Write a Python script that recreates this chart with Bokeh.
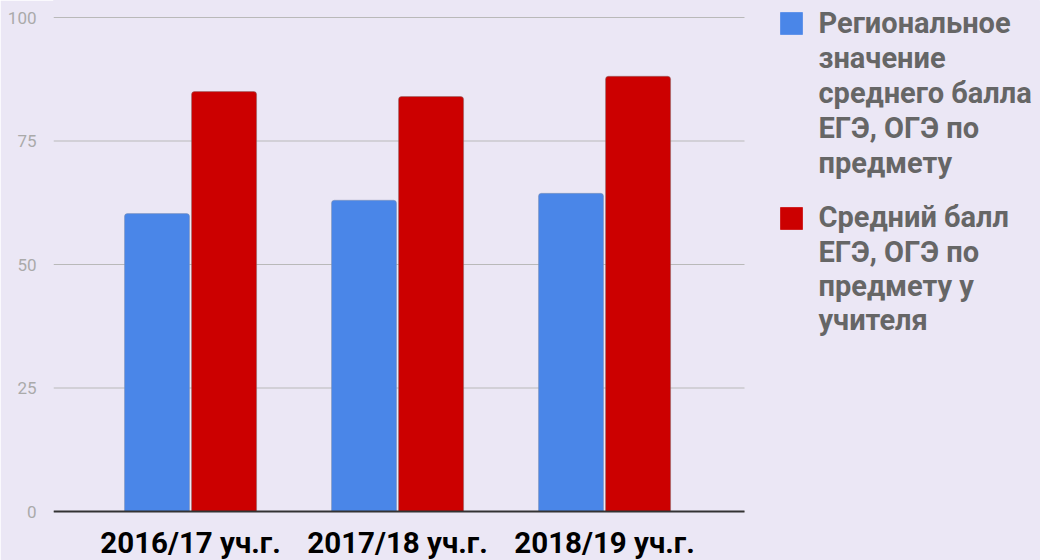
from bokeh.plotting import figure
from bokeh.models import Range1d, FixedTicker
from bokeh.core.properties import value
from bokeh.embed import file_html
from bokeh.resources import INLINE

categories = ["2016/17 уч.г.", "2017/18 уч.г.", "2018/19 уч.г."]
regional = [60.3, 63.0, 64.4]
teacher = [85.0, 84.0, 88.1]
series_names = [
    ["Региональное", "значение", "среднего балла", "ЕГЭ, ОГЭ по", "предмету"],
    ["Средний балл", "ЕГЭ, ОГЭ по", "предмету у", "учителя"],
]
colors = ["#4a86e8", "#cc0000"]
y_ticks = [0, 25, 50, 75, 100]

BG = "#ebe7f5"
FONT = "Roboto"

idx = list(range(len(categories)))
bw = 0.314
off = 0.162

# layout in page pixels
PL, PR, PT, PB = 53, 744, 17, 511   # plotting area (value 100 at PT, 0 at PB)
W, H = 1040, 560
X0 = -0.662
PX_PER_X = 207.0
PX_PER_Y = (PB - PT) / 100.0
X1 = X0 + (W - PL) / PX_PER_X
Y0 = -(H - PB) / PX_PER_Y
Y1 = PB / PX_PER_Y


def dx(px):
    return X0 + (px - PL) / PX_PER_X


def dy(py):
    return (PB - py) / PX_PER_Y


p = figure(width=W, height=H, output_backend="svg", toolbar_location=None,
           x_range=Range1d(X0, X1), y_range=Range1d(Y0, Y1),
           min_border_left=PL, min_border_right=0,
           min_border_top=0, min_border_bottom=0)
p.background_fill_color = BG
p.border_fill_color = BG
p.outline_line_color = BG
p.outline_line_width = 1
p.xgrid.grid_line_color = None
p.ygrid.grid_line_color = None
p.xaxis.visible = False

# gridlines limited to the chart area
xe = dx(PR)
p.segment(x0=[X0] * len(y_ticks), x1=[xe] * len(y_ticks), y0=y_ticks, y1=y_ticks,
          line_color="#b9b9b9", line_width=1)

p.vbar(x=[i - off for i in idx], top=regional, width=bw, bottom=0,
       fill_color=colors[0], line_color="#7f8fb0", line_alpha=0.5, line_width=1,
       border_radius=(3, 3, 0, 0))
p.vbar(x=[i + off for i in idx], top=teacher, width=bw, bottom=0,
       fill_color=colors[1], line_color="#8a6a6a", line_alpha=0.5, line_width=1,
       border_radius=(3, 3, 0, 0))

# baseline
p.segment(x0=[X0], x1=[xe], y0=[0], y1=[0], line_color="#333333", line_width=2)

p.yaxis.ticker = FixedTicker(ticks=y_ticks)
p.yaxis.axis_line_color = None
p.yaxis.major_tick_line_color = None
p.yaxis.minor_tick_line_color = None
p.yaxis.major_label_text_color = "#aaaaaa"
p.yaxis.major_label_text_font = FONT
p.yaxis.major_label_text_font_size = "17px"
p.yaxis.major_label_standoff = 11

TEXT_SHIFT = 10.5   # renderer places the alphabetic baseline lower than requested (29px)

# category labels
cat_size = 29.5
p.text(x=idx, y=[dy(553.3 - TEXT_SHIFT * cat_size / 29)] * len(idx), text=categories,
       text_font=value(FONT), text_font_style="bold", text_font_size=f"{cat_size}px",
       text_color="#000000", text_baseline="alphabetic", text_align="center")

# legend
sq_top = [12, 207]
base0 = [33.3, 227.3]
line_h = [35.0, 34.2]
for k, (names, col) in enumerate(zip(series_names, colors)):
    p.rect(x=[dx(791)], y=[dy(sq_top[k] + 11)], width=22, height=22,
           width_units="screen", height_units="screen",
           fill_color=col, line_color=col, line_alpha=0.7)
    ys = [dy(base0[k] + j * line_h[k] - TEXT_SHIFT) for j in range(len(names))]
    p.text(x=[dx(818)] * len(names), y=ys, text=names, text_font=value(FONT),
           text_font_style="bold", text_font_size="29px", text_color="#666666",
           text_baseline="alphabetic", text_align="left")

open("out.html", "w").write(file_html(p, INLINE))
